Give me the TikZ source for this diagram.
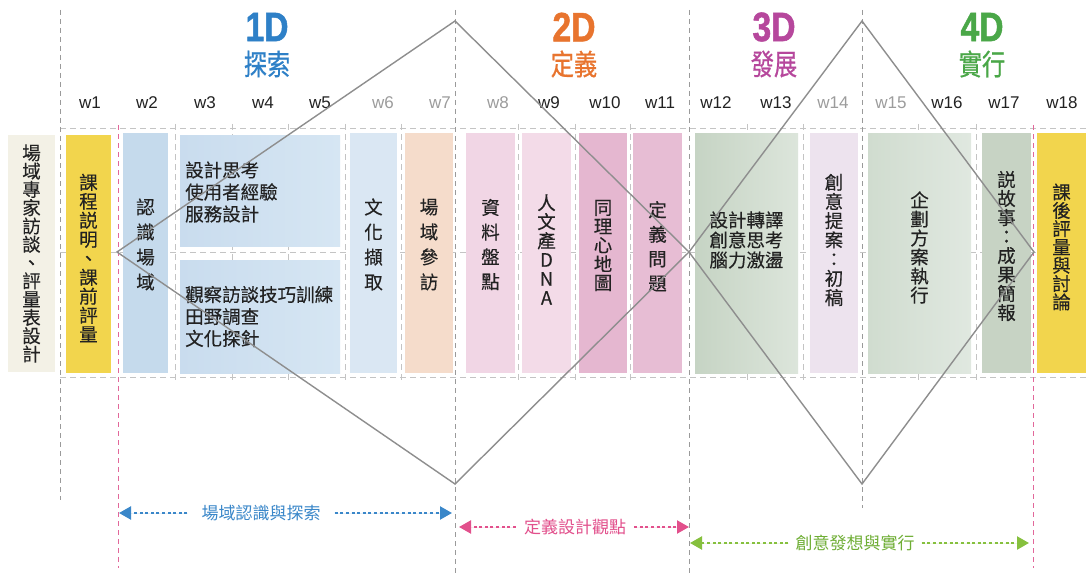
\documentclass[tikz,border=0pt]{standalone}
\usepackage{fontspec}
\setmainfont{Liberation Sans}
\newfontfamily\cjk[FakeBold=0.3]{Noto Sans CJK TC}
\newfontfamily\cjkl{Noto Sans CJK TC}
\newfontfamily\cjkh[FakeStretch=0.8,FakeBold=0.6]{Noto Sans CJK TC}
\newfontfamily\hdfont[FakeStretch=0.82,FakeBold=1.2]{Liberation Sans Bold}
\usetikzlibrary{arrows.meta}
\definecolor{cream}{HTML}{F3F1E6}
\definecolor{ylw}{HTML}{F2D54D}
\definecolor{bA}{HTML}{C5DAEC}
\definecolor{bB}{HTML}{D6E6F3}
\definecolor{bBd}{HTML}{C9DCEE}
\definecolor{bC}{HTML}{DAE7F3}
\definecolor{peach}{HTML}{F5DCCB}
\definecolor{pA}{HTML}{F1D6E5}
\definecolor{pB}{HTML}{F3DBE8}
\definecolor{pC}{HTML}{E5B7D0}
\definecolor{pD}{HTML}{E7BDD4}
\definecolor{gA}{HTML}{DCE5DB}
\definecolor{gAd}{HTML}{C6D4C4}
\definecolor{lav}{HTML}{EDE3EE}
\definecolor{gB}{HTML}{E0E8E0}
\definecolor{gBd}{HTML}{D0DCCF}
\definecolor{gC}{HTML}{C7D3C4}
\definecolor{textc}{HTML}{222222}
\definecolor{wgray}{HTML}{9C9C9C}
\definecolor{lgray}{HTML}{9A9A9A}
\definecolor{ggray}{HTML}{C4C4C4}
\definecolor{dgray}{HTML}{8E8E8E}
\definecolor{pinkl}{HTML}{E2679A}
\definecolor{cA}{HTML}{2E80C7}
\definecolor{cB}{HTML}{E8742E}
\definecolor{cC}{HTML}{B6479C}
\definecolor{cD}{HTML}{4AA748}
\definecolor{arB}{HTML}{3A87C9}
\definecolor{arP}{HTML}{E2508C}
\definecolor{arG}{HTML}{86C03E}
\definecolor{arGt}{HTML}{6FAE35}
\begin{document}
\begin{tikzpicture}[x=1pt,y=-1pt,
  longdash/.style={draw=lgray, line width=0.9pt, dash pattern=on 5pt off 4pt},
  griddash/.style={draw=ggray, line width=0.8pt, dash pattern=on 6pt off 4pt},
  pinkdash/.style={draw=pinkl, line width=0.9pt, dash pattern=on 5pt off 4pt},
  diam/.style={draw=dgray, line width=1.4pt, line join=miter},
  box/.style={inner sep=0pt, outer sep=0pt, draw=none},
  vt/.style={align=center, text=textc, inner sep=0pt, font=\cjk\fontsize{18.5}{#1}\selectfont},
  ht/.style={align=left, text=textc, inner sep=0pt, font=\cjk\fontsize{18.5}{#1}\selectfont},
  ct/.style={align=center, text=textc, inner sep=0pt, font=\cjk\fontsize{18.5}{#1}\selectfont},
  wk/.style={font=\fontsize{17}{17}\selectfont, text=textc, inner sep=0pt},
  wkg/.style={wk, text=wgray},
  hd/.style={font=\hdfont\fontsize{41}{41}\selectfont, inner sep=0pt},
  hc/.style={font=\cjkh\fontsize{29}{29}\selectfont, inner sep=0pt},
  arr/.style={line width=2.2pt, dash pattern=on 3pt off 2.6pt, -{Triangle[length=12pt,width=13pt]}},
  alab/.style={font=\cjkl\fontsize{17}{17}\selectfont, inner sep=0pt}
]
\useasboundingbox (0,0) rectangle (1086,575);
\fill[white] (0,0) rectangle (1086,575);

% grid of light dashed lines (behind boxes)
\draw[griddash] (60,128) -- (1086,128);
\draw[griddash] (60,252) -- (1086,252);
\draw[griddash] (60,377) -- (1086,377);
\foreach \xx in {175,232,288,345,401,518,575,630,747,803,918,976}
  \draw[griddash] (\xx,124) -- (\xx,381);

% long dashed lines
\draw[longdash] (60,10) -- (60,500);
\draw[longdash] (455,10) -- (455,575);
\draw[longdash] (689,10) -- (689,575);
\draw[longdash] (862,10) -- (862,508);
\draw[pinkdash] (118,125) -- (118,568);
\draw[pinkdash] (1033,125) -- (1033,568);

% headings
\node[hd, text=cA] (h1) at (267,27) {1D};
\node[hc, text=cA] (h1c) at (267,64) {探索};
\node[hd, text=cB] (h2) at (574,27) {2D};
\node[hc, text=cB] (h2c) at (574,64) {定義};
\node[hd, text=cC] (h3) at (774,27) {3D};
\node[hc, text=cC] (h3c) at (774,64) {發展};
\node[hd, text=cD] (h4) at (982,27) {4D};
\node[hc, text=cD] (h4c) at (982,64) {實行};

% week labels
\node[wk] (w1) at (90,103) {w1};
\node[wk] (w2) at (147,103) {w2};
\node[wk] (w3) at (205,103) {w3};
\node[wk] (w4) at (263,103) {w4};
\node[wk] (w5) at (320,103) {w5};
\node[wkg] (w6) at (383,103) {w6};
\node[wkg] (w7) at (440,103) {w7};
\node[wkg] (w8) at (498,103) {w8};
\node[wk] (w9) at (549,103) {w9};
\node[wk] (w10) at (605,103) {w10};
\node[wk] (w11) at (660,103) {w11};
\node[wk] (w12) at (716,103) {w12};
\node[wk] (w13) at (776,103) {w13};
\node[wkg] (w14) at (833,103) {w14};
\node[wkg] (w15) at (891,103) {w15};
\node[wk] (w16) at (947,103) {w16};
\node[wk] (w17) at (1004,103) {w17};
\node[wk] (w18) at (1062,103) {w18};

% boxes
\node[box, fill=cream, minimum width=47pt, minimum height=237pt] (expert) at (31.5,253.5) {};
\node[vt=18.3] (expertT) at ([yshift=0pt]expert.center) {場\\域\\專\\家\\訪\\談\\、\\評\\量\\表\\設\\計};
\node[box, fill=ylw, minimum width=45pt, minimum height=238pt] (kc) at (88.5,254) {};
\node[vt=19] (kcT) at ([yshift=-4pt]kc.center) {課\\程\\説\\明\\、\\課\\前\\評\\量};
\node[box, fill=bA, minimum width=45pt, minimum height=240pt] (rs) at (145.5,253) {};
\node[vt=25] (rsT) at ([yshift=8.5pt]rs.center) {認\\識\\場\\域};
\node[box, left color=bBd, right color=bB, minimum width=160pt, minimum height=111pt] (top) at (260,190.5) {};
\node[ht=22, anchor=west] (topT) at ([xshift=5pt,yshift=-1.5pt]top.west) {設計思考\\使用者經驗\\服務設計};
\node[box, left color=bBd, right color=bB, minimum width=160pt, minimum height=113pt] (bot) at (260,316.5) {};
\node[ht=22, anchor=west] (botT) at ([xshift=5pt]bot.west) {觀察訪談技巧訓練\\田野調查\\文化探針};
\node[box, fill=bC, minimum width=47pt, minimum height=240pt] (wh) at (373.5,253) {};
\node[vt=25] (whT) at ([yshift=8.5pt]wh.center) {文\\化\\擷\\取};
\node[box, fill=peach, minimum width=48pt, minimum height=240pt] (cf) at (429,253) {};
\node[vt=25] (cfT) at ([yshift=8.5pt]cf.center) {場\\域\\參\\訪};
\node[box, fill=pA, minimum width=49pt, minimum height=240pt] (zl) at (490.5,253) {};
\node[vt=24.7] (zlT) at ([yshift=8.5pt]zl.center) {資\\料\\盤\\點};
\node[box, fill=pB, minimum width=49pt, minimum height=240pt] (dna) at (546.5,253) {};
\node[vt=19] (dnaT) at ([yshift=3.5pt]dna.center) {人\\文\\產\\D\\N\\A};
\node[box, fill=pC, minimum width=48pt, minimum height=240pt] (tl) at (603,253) {};
\node[vt=18.8] (tlT) at ([yshift=7.5pt]tl.center) {同\\理\\心\\地\\圖};
\node[box, fill=pD, minimum width=49pt, minimum height=240pt] (dy) at (657.5,253) {};
\node[vt=24.5] (dyT) at ([yshift=6.5pt]dy.center) {定\\義\\問\\題};
\node[box, left color=gAd, right color=gA, minimum width=103pt, minimum height=240pt] (sj) at (746.5,253) {};
\node[ct=20] (sjT) at ([yshift=13pt]sj.center) {設計轉譯\\創意思考\\腦力激盪};
\node[box, fill=lav, minimum width=48pt, minimum height=240pt] (ca) at (834,253) {};
\node[vt=19.2] (caT) at ([yshift=13pt]ca.center) {創\\意\\提\\案\\：\\初\\稿};
\node[box, left color=gBd, right color=gB, minimum width=103pt, minimum height=240pt] (qh) at (919.5,253) {};
\node[vt=19] (qhT) at ([yshift=5.5pt]qh.center) {企\\劃\\方\\案\\執\\行};
\node[box, fill=gC, minimum width=49pt, minimum height=240pt] (sg) at (1006.5,253) {};
\node[vt=19] (sgT) at ([yshift=7pt]sg.center) {説\\故\\事\\：\\成\\果\\簡\\報};
\node[box, fill=ylw, minimum width=49pt, minimum height=240pt] (kh) at (1061.5,253) {};
\node[vt=18.3] (khT) at ([yshift=6pt]kh.center) {課\\後\\評\\量\\與\\討\\論};

% diamonds
\coordinate (L1) at (117,252);
\coordinate (T1) at (455,21);
\coordinate (M) at (689,252);
\coordinate (B1) at (455,484);
\coordinate (T2) at (862,21);
\coordinate (R2) at (1034,252);
\coordinate (B2) at (862,484);
\draw[diam] (L1) -- (T1) -- (M) -- (B1) -- cycle;
\draw[diam] (M) -- (T2) -- (R2) -- (B2) -- cycle;

% bottom arrows
\coordinate (ba) at (119,513);
\coordinate (bb) at (452,513);
\node[alab, text=arB, inner xsep=14pt] (bl) at (261,513) {場域認識與探索};
\draw[arr, draw=arB, fill=arB] (bl.west) -- (ba);
\draw[arr, draw=arB, fill=arB] (bl.east) -- (bb);

\coordinate (pa) at (459,527);
\coordinate (pb) at (689,527);
\node[alab, text=arP, inner xsep=8pt] (pl) at (575,527) {定義設計觀點};
\draw[arr, draw=arP, fill=arP] (pl.west) -- (pa);
\draw[arr, draw=arP, fill=arP] (pl.east) -- (pb);

\coordinate (ga) at (690,543);
\coordinate (gb) at (1029,543);
\node[alab, text=arGt, inner xsep=7pt] (gl) at (855,543) {創意發想與實行};
\draw[arr, draw=arG, fill=arG] (gl.west) -- (ga);
\draw[arr, draw=arG, fill=arG] (gl.east) -- (gb);
\end{tikzpicture}
\end{document}
